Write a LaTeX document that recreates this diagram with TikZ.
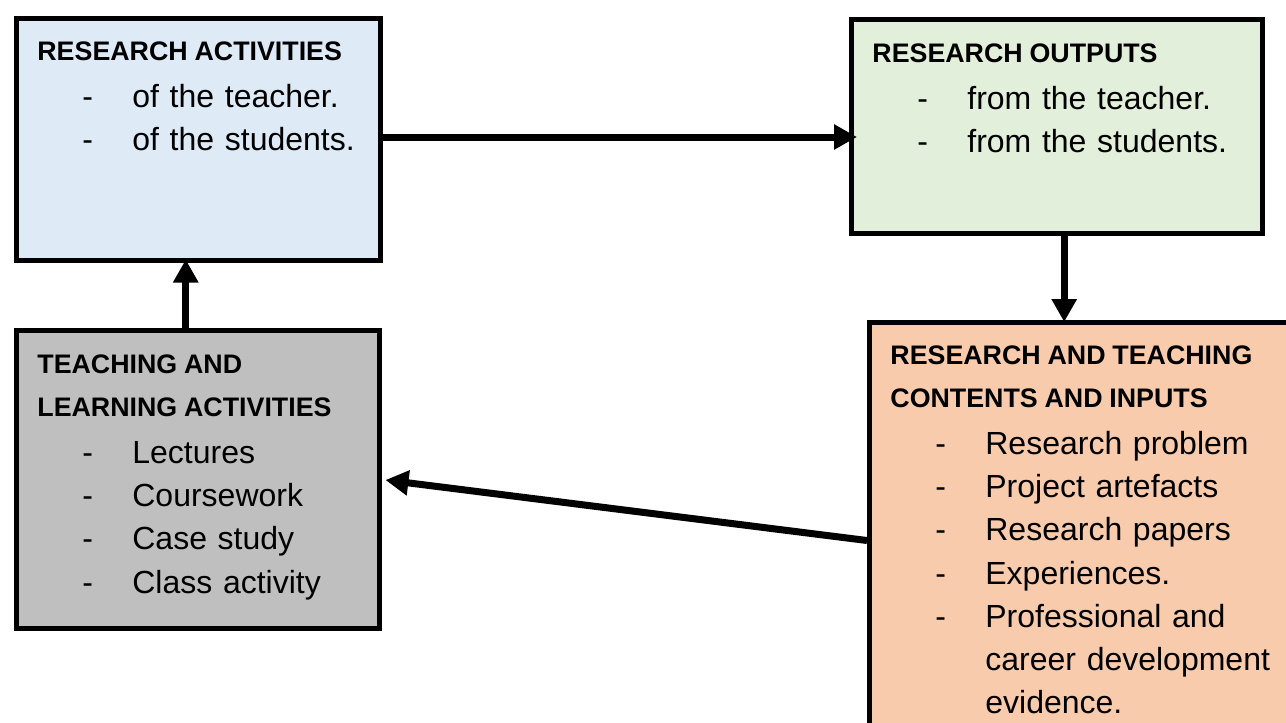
\documentclass[tikz,border=0pt]{standalone}
\usepackage{fontspec}
\setmainfont{Liberation Sans}
\usetikzlibrary{arrows.meta}

\definecolor{boxblue}{HTML}{DEEBF7}
\definecolor{boxgreen}{HTML}{E2EFDA}
\definecolor{boxgray}{HTML}{BFBFBF}
\definecolor{boxorange}{HTML}{F8CBAD}

\newcommand{\boxhead}[1]{{\fontsize{13.4}{21.6}\selectfont\bfseries\spaceskip=3.4pt #1}}
\newcommand{\bitem}[1]{\hspace*{22.5pt}\makebox[25pt][l]{-}#1}
\newcommand{\bcont}[1]{\hspace*{47.5pt}#1}

\begin{document}
\begin{tikzpicture}[x=0.5pt, y=-0.5pt,
  box/.style={draw, line width=2.5pt, anchor=north west, inner sep=0pt},
  txt/.style={anchor=base west, inner sep=0pt, text width=240pt, align=left,
    font=\fontsize{16}{21.6}\selectfont},
  arr/.style={line width=3.5pt, -{Triangle[length=11.5pt, width=12pt]}}]
\useasboundingbox (0,0) rectangle (1286,723);
\clip (0,0) rectangle (1286,723);
\node[box, fill=boxblue, minimum width=181.75pt, minimum height=121pt] (ra) at (14,15.5) {};
\node[box, fill=boxgreen, minimum width=205.5pt, minimum height=107pt] (ro) at (849,17) {};
\node[box, fill=boxgray, minimum width=181.25pt, minimum height=149pt] (tla) at (14,328) {};
\node[box, fill=boxorange, minimum width=221.5pt, minimum height=218pt] (rtc) at (867,320) {};

\node[txt] (ra-txt) at (37,60) {\boxhead{RESEARCH ACTIVITIES}\\[2pt]
  \bitem{of the teacher.}\\
  \bitem{of the students.}};
\node[txt] (ro-txt) at (872,62) {\boxhead{RESEARCH OUTPUTS}\\[2pt]
  \bitem{from the teacher.}\\
  \bitem{from the students.}};
\node[txt] (tla-txt) at (37,373) {\boxhead{TEACHING AND}\\
  \boxhead{LEARNING ACTIVITIES}\\[2pt]
  \bitem{Lectures}\\
  \bitem{Coursework}\\
  \bitem{Case study}\\
  \bitem{Class activity}};
\node[txt] (rtc-txt) at (890,364) {\boxhead{RESEARCH AND TEACHING}\\
  \boxhead{CONTENTS AND INPUTS}\\[2pt]
  \bitem{Research problem}\\
  \bitem{Project artefacts}\\
  \bitem{Research papers}\\
  \bitem{Experiences.}\\
  \bitem{Professional and}\\
  \bcont{career development}\\
  \bcont{evidence.}};

\draw[arr, shorten >=-4pt] ([yshift=1pt]ra.east) -- ([yshift=1pt]ra.east -| ro.west);
\draw[arr, shorten >=-1pt] ([xshift=3.6pt]ro.south) -- ([xshift=3.6pt]ro.south |- rtc.north);
\draw[arr, shorten >=2pt] (rtc.west) -- (tla.east);
\draw[arr, shorten >=-1.5pt] ([xshift=-6pt]tla.north) -- ([xshift=-6pt]tla.north |- ra.south);
\end{tikzpicture}
\end{document}
